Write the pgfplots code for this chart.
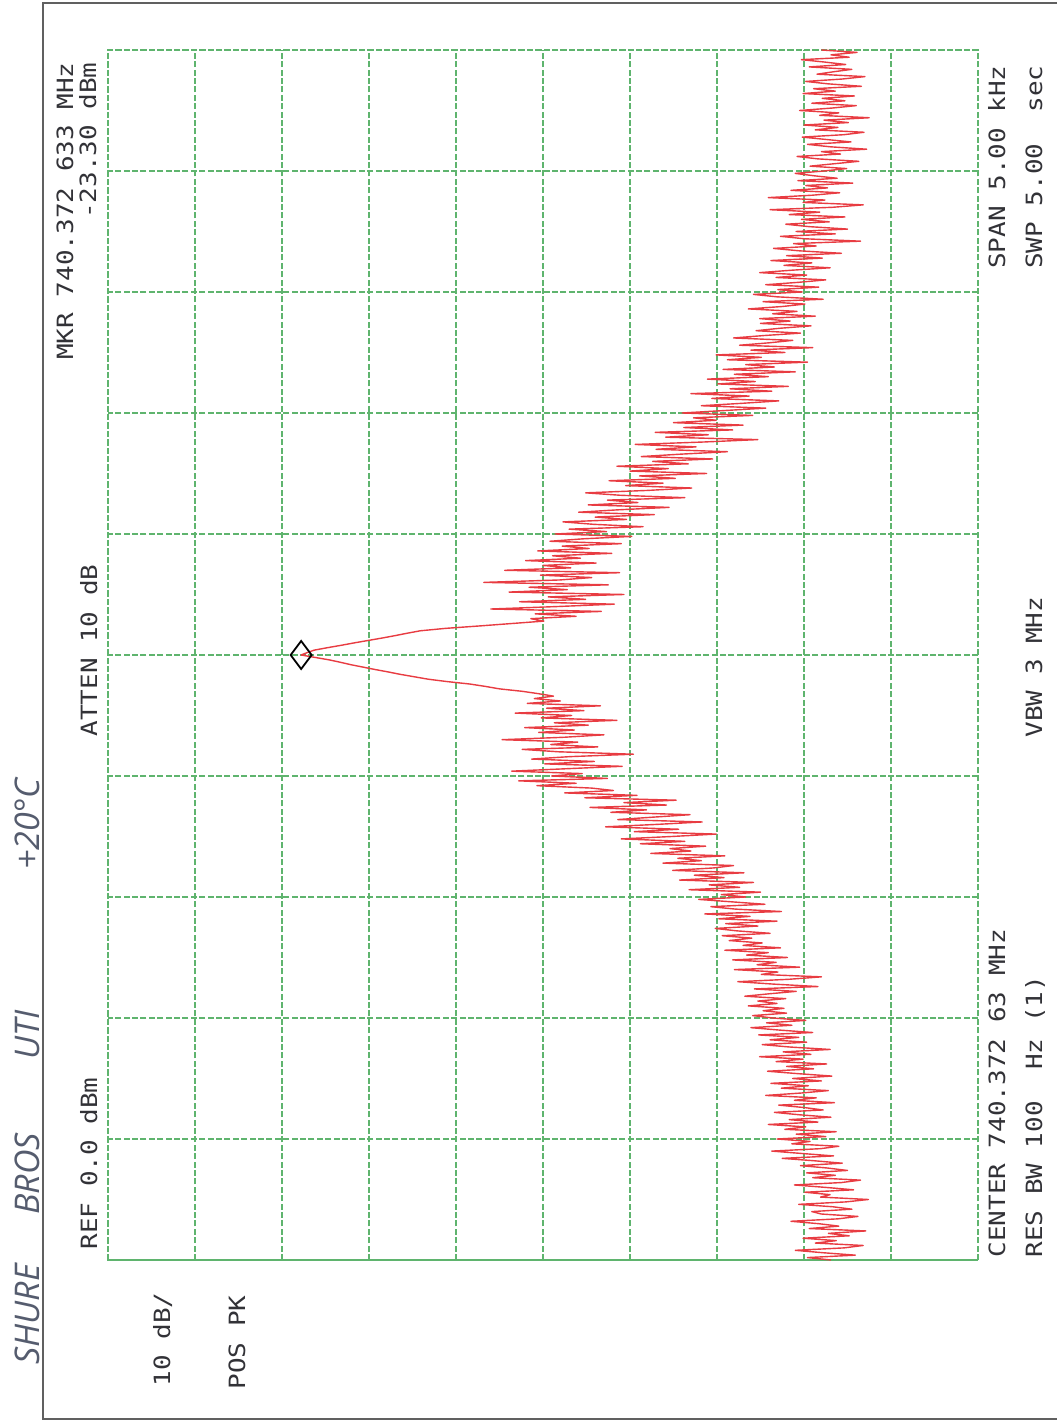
\documentclass[border=0pt]{standalone}
\usepackage{pgfplots}
\pgfplotsset{compat=1.18}
\usepackage{pgfplotstable}
\usepackage{fontspec}
\setmainfont{DejaVu Sans}
\newfontfamily\plotter{DejaVu Sans Mono}
\newfontfamily\hand{Open Sans}
\definecolor{gridgreen}{RGB}{95,180,110}
\definecolor{tracered}{RGB}{232,60,66}
\definecolor{ink}{RGB}{50,50,55}
\definecolor{pencil}{RGB}{85,92,110}

\pgfplotstableread[row sep=\\]{
f db\\
-2500 -83.1\\ -2490 -80.4\\ -2480 -85.9\\ -2470 -82.2\\ -2460 -79.0\\ -2450 -84.6\\ -2440 -86.8\\ -2430 -81.3\\ -2420 -83.7\\ -2410 -79.9\\
-2400 -85.2\\ -2390 -82.8\\ -2380 -87.1\\ -2370 -80.6\\ -2360 -84.0\\ -2350 -81.7\\ -2340 -78.5\\ -2330 -83.9\\ -2320 -86.2\\ -2310 -82.0\\
-2300 -80.9\\ -2290 -85.5\\ -2280 -83.3\\ -2270 -79.4\\ -2260 -84.8\\ -2250 -87.4\\ -2240 -81.9\\ -2230 -83.0\\ -2220 -80.1\\ -2210 -85.7\\
-2200 -82.5\\ -2190 -78.9\\ -2180 -84.3\\ -2170 -86.5\\ -2160 -81.0\\ -2150 -83.6\\ -2140 -80.3\\ -2130 -85.0\\ -2120 -82.7\\ -2110 -79.6\\
-2100 -84.4\\
-2090 -81.2\\ -2080 -77.5\\ -2070 -83.4\\ -2060 -79.8\\ -2050 -76.3\\ -2040 -81.9\\ -2030 -84.0\\ -2020 -78.6\\ -2010 -80.7\\ -2000 -76.9\\
-1990 -82.5\\ -1980 -79.1\\ -1970 -83.7\\ -1960 -77.8\\ -1950 -80.2\\ -1940 -75.9\\ -1930 -81.6\\ -1920 -78.3\\ -1910 -83.1\\ -1900 -79.5\\
-1890 -76.6\\ -1880 -82.2\\ -1870 -80.0\\ -1860 -77.1\\ -1850 -83.5\\ -1840 -78.9\\ -1830 -81.4\\ -1820 -75.6\\ -1810 -79.7\\ -1800 -82.8\\
-1790 -77.4\\ -1780 -80.5\\ -1770 -76.2\\ -1760 -82.0\\ -1750 -78.7\\ -1740 -83.2\\ -1730 -79.3\\ -1720 -75.8\\ -1710 -81.1\\ -1700 -78.0\\
-1690 -82.6\\ -1680 -76.8\\ -1670 -79.9\\ -1660 -74.9\\ -1650 -80.8\\ -1640 -77.6\\ -1630 -83.0\\ -1620 -78.4\\ -1610 -75.2\\ -1600 -80.3\\
-1590 -76.1\\ -1580 -79.4\\ -1570 -74.8\\ -1560 -81.0\\ -1550 -77.2\\ -1540 -73.9\\ -1530 -78.6\\ -1520 -75.7\\ -1510 -80.2\\ -1500 -76.4\\
-1490 -74.1\\ -1480 -78.0\\ -1470 -75.3\\ -1460 -77.7\\ -1450 -73.6\\ -1440 -76.9\\ -1430 -74.7\\ -1420 -77.9\\ -1410 -73.2\\ -1400 -76.0\\
-1390 -79.1\\ -1380 -74.3\\ -1370 -81.6\\ -1360 -76.5\\ -1350 -72.4\\ -1340 -78.3\\ -1330 -82.0\\ -1320 -75.1\\ -1310 -77.0\\ -1300 -72.0\\
-1290 -79.5\\ -1280 -74.6\\ -1270 -76.8\\ -1260 -71.8\\ -1250 -78.1\\ -1240 -73.4\\ -1230 -75.9\\ -1220 -70.9\\ -1210 -77.3\\ -1200 -73.0\\
-1190 -75.2\\ -1180 -71.4\\ -1170 -74.0\\ -1160 -70.6\\ -1150 -76.1\\ -1140 -72.3\\ -1130 -69.8\\ -1120 -74.7\\ -1110 -71.0\\ -1100 -76.9\\
-1090 -70.2\\ -1080 -73.8\\ -1070 -68.6\\ -1060 -77.4\\ -1050 -72.1\\ -1040 -69.3\\ -1030 -75.5\\ -1020 -71.7\\ -1010 -67.9\\ -1000 -73.3\\
-990 -70.5\\ -980 -75.0\\ -970 -66.8\\ -960 -72.6\\ -950 -69.1\\ -940 -74.2\\ -930 -65.7\\ -920 -70.8\\ -910 -67.4\\ -900 -73.1\\
-890 -64.9\\ -880 -69.6\\ -870 -71.9\\ -860 -63.8\\ -850 -68.2\\ -840 -65.5\\ -830 -70.9\\ -820 -62.4\\ -810 -67.0\\ -800 -64.6\\
-790 -68.7\\ -780 -61.2\\ -770 -66.3\\ -760 -59.0\\ -750 -64.8\\ -740 -69.9\\ -730 -60.5\\ -720 -65.6\\ -710 -57.2\\ -700 -63.1\\
-690 -68.3\\ -680 -58.6\\ -670 -62.7\\ -660 -66.9\\ -650 -57.8\\ -640 -61.9\\ -630 -55.4\\ -620 -64.2\\ -610 -59.3\\ -600 -65.3\\
-590 -54.8\\ -580 -60.8\\ -570 -52.5\\ -560 -58.1\\
-550 -55.6\\ -540 -49.3\\ -530 -53.8\\ -520 -47.2\\ -510 -57.4\\ -500 -51.0\\ -490 -54.5\\ -480 -46.4\\ -470 -52.7\\ -460 -59.1\\
-450 -50.2\\ -440 -55.9\\ -430 -48.7\\ -420 -53.1\\ -410 -60.4\\ -400 -51.8\\ -390 -47.6\\ -380 -56.3\\ -370 -50.9\\ -360 -54.0\\
-350 -45.3\\ -340 -52.4\\ -330 -57.0\\ -320 -49.5\\ -310 -53.6\\ -300 -47.9\\ -290 -55.2\\ -280 -51.3\\ -270 -58.5\\ -260 -49.8\\
-250 -53.3\\ -240 -46.8\\ -230 -54.7\\ -220 -50.4\\ -210 -56.6\\ -200 -48.2\\ -190 -52.0\\ -180 -49.0\\ -170 -51.2\\
-160 -49.5\\ -150 -47.6\\ -140 -45.0\\ -130 -43.4\\ -120 -41.6\\ -110 -39.0\\ -100 -36.8\\ -90 -35.2\\ -80 -33.6\\ -70 -32.2\\
-60 -30.7\\ -50 -29.3\\ -40 -27.9\\ -30 -26.7\\ -20 -25.4\\ -10 -23.8\\ 0 -22.2\\ 10 -22.9\\ 20 -23.7\\ 30 -25.2\\
40 -26.8\\ 50 -28.3\\ 60 -29.9\\ 70 -31.5\\ 80 -33.0\\ 90 -34.4\\ 100 -35.9\\ 110 -38.8\\ 120 -42.7\\ 130 -46.4\\
140 -50.1\\ 150 -48.6\\
160 -53.8\\ 170 -49.1\\ 180 -56.7\\ 190 -44.0\\ 200 -51.5\\ 210 -58.2\\ 220 -47.3\\ 230 -54.9\\ 240 -50.6\\ 250 -59.3\\
260 -46.1\\ 270 -52.8\\ 280 -48.4\\ 290 -57.5\\ 300 -43.2\\ 310 -51.9\\ 320 -55.6\\ 330 -49.7\\ 340 -58.8\\ 350 -45.6\\
360 -53.2\\ 370 -50.0\\ 380 -56.1\\ 390 -48.0\\ 400 -54.3\\ 410 -51.1\\ 420 -57.9\\ 430 -49.4\\ 440 -55.3\\ 450 -52.2\\
460 -59.0\\ 470 -50.8\\
480 -54.6\\ 490 -60.2\\ 500 -51.4\\ 510 -57.3\\ 520 -53.0\\ 530 -61.5\\ 540 -55.8\\ 550 -52.3\\ 560 -59.6\\ 570 -56.0\\
580 -62.8\\ 590 -54.1\\ 600 -58.7\\ 610 -64.5\\ 620 -55.2\\ 630 -60.9\\ 640 -57.4\\ 650 -66.3\\ 660 -58.9\\ 670 -54.9\\
680 -62.0\\ 690 -67.1\\ 700 -59.5\\ 710 -63.8\\ 720 -57.6\\ 730 -65.2\\ 740 -61.1\\ 750 -68.8\\ 760 -60.0\\ 770 -64.4\\
780 -58.5\\ 790 -66.7\\ 800 -62.6\\ 810 -69.5\\ 820 -61.3\\ 830 -65.9\\ 840 -71.2\\ 850 -63.0\\ 860 -67.6\\ 870 -60.6\\
880 -68.4\\ 890 -74.7\\ 900 -64.1\\ 910 -69.0\\ 920 -62.9\\ 930 -71.8\\ 940 -66.2\\ 950 -73.0\\ 960 -65.0\\ 970 -69.9\\
980 -67.3\\ 990 -74.1\\ 1000 -66.0\\
1010 -70.8\\ 1020 -75.6\\ 1030 -68.2\\ 1040 -72.9\\ 1050 -77.1\\ 1060 -69.4\\ 1070 -73.7\\ 1080 -67.0\\ 1090 -76.3\\ 1100 -71.5\\
1110 -78.2\\ 1120 -70.1\\ 1130 -74.4\\ 1140 -68.9\\ 1150 -75.9\\ 1160 -72.0\\ 1170 -79.0\\ 1180 -70.7\\ 1190 -76.6\\ 1200 -73.3\\
1210 -80.4\\ 1220 -71.2\\ 1230 -75.1\\ 1240 -69.9\\ 1250 -77.8\\ 1260 -73.9\\ 1270 -81.0\\ 1280 -72.6\\ 1290 -76.0\\ 1300 -78.7\\
1310 -71.9\\ 1320 -75.4\\ 1330 -79.6\\ 1340 -74.5\\ 1350 -77.2\\ 1360 -80.8\\ 1370 -75.0\\ 1380 -78.4\\ 1390 -74.9\\ 1400 -81.3\\
1410 -76.4\\ 1420 -79.2\\ 1430 -73.6\\ 1440 -77.5\\ 1450 -80.1\\ 1460 -75.3\\ 1470 -82.2\\ 1480 -76.9\\ 1490 -74.2\\ 1500 -79.8\\
1510 -77.0\\ 1520 -81.7\\ 1530 -75.6\\ 1540 -79.4\\ 1550 -82.5\\ 1560 -76.8\\ 1570 -80.3\\ 1580 -74.9\\ 1590 -78.6\\ 1600 -83.0\\
1610 -77.7\\ 1620 -80.9\\ 1630 -76.2\\ 1640 -82.1\\ 1650 -78.0\\ 1660 -84.3\\ 1670 -79.5\\ 1680 -76.5\\ 1690 -81.4\\ 1700 -78.8\\
1710 -86.5\\ 1720 -80.0\\ 1730 -77.3\\ 1740 -83.6\\ 1750 -79.1\\ 1760 -85.0\\ 1770 -80.6\\ 1780 -77.9\\ 1790 -82.9\\ 1800 -79.7\\
1810 -84.7\\ 1820 -78.3\\ 1830 -81.8\\ 1840 -76.1\\ 1850 -83.3\\ 1860 -86.8\\ 1870 -79.9\\ 1880 -82.4\\ 1890 -75.9\\ 1900 -81.0\\
1910 -84.1\\ 1920 -78.5\\ 1930 -82.7\\ 1940 -80.2\\ 1950 -85.6\\ 1960 -79.3\\ 1970 -83.8\\ 1980 -81.2\\ 1990 -79.0\\ 2000 -82.3\\
2010 -84.9\\ 2020 -80.7\\ 2030 -83.5\\ 2040 -86.3\\ 2050 -81.6\\ 2060 -79.2\\ 2070 -84.2\\ 2080 -82.0\\ 2090 -87.2\\ 2100 -83.0\\
2110 -80.4\\ 2120 -85.4\\ 2130 -82.6\\ 2140 -79.8\\ 2150 -84.6\\ 2160 -86.9\\ 2170 -81.3\\ 2180 -83.9\\ 2190 -80.0\\ 2200 -85.1\\
2210 -82.3\\ 2220 -87.5\\ 2230 -81.8\\ 2240 -84.0\\ 2250 -79.5\\ 2260 -83.2\\ 2270 -86.0\\ 2280 -80.9\\ 2290 -84.7\\ 2300 -82.1\\
2310 -85.8\\ 2320 -79.9\\ 2330 -83.6\\ 2340 -81.1\\ 2350 -86.6\\ 2360 -82.8\\ 2370 -80.2\\ 2380 -84.4\\ 2390 -87.0\\ 2400 -81.5\\
2410 -83.4\\ 2420 -85.5\\ 2430 -80.6\\ 2440 -84.8\\ 2450 -82.4\\ 2460 -79.7\\ 2470 -85.2\\ 2480 -83.1\\ 2490 -86.1\\ 2500 -82.0\\
}\tracetable

\begin{document}
\begin{tikzpicture}[x=0.5pt,y=0.5pt]
\useasboundingbox (0,0) rectangle (1057,1427);
% page frame
\draw[gray!75!black, line width=0.8pt] (1057,1424) -- (43,1424) -- (43,8) -- (1057,8);

\begin{axis}[
  at={(54pt,83.5pt)}, anchor=south west,
  scale only axis, width=435pt, height=605pt,
  xmin=-100, xmax=0, x dir=reverse,
  ymin=-2500, ymax=2500,
  xtick={-100,-90,...,0}, ytick={-2500,-2000,...,2500},
  xticklabels={}, yticklabels={},
  major tick length=0pt,
  tick style={draw=none},
  xmajorgrids=true, ymajorgrids=true,
  x grid style={gridgreen, line width=0.6pt, dash pattern=on 3pt off 1.2pt},
  y grid style={gridgreen, line width=0.6pt, dash pattern=on 3pt off 1.2pt},
  major grid style={gridgreen, line width=0.6pt, dash pattern=on 3pt off 1.2pt},
  axis line style={gridgreen, line width=0.6pt, dash pattern=on 3pt off 1.2pt},
  clip=false,
]
\addplot[tracered, line width=0.7pt, line join=round] table[x=db, y=f] {\tracetable};
\addplot[only marks, mark=diamond, mark size=7pt,
  mark options={draw=black, fill=white, line width=0.9pt}] coordinates {(-22.2,0)};
\end{axis}

\begin{scope}[every node/.style={rotate=90, xscale=1.16, inner sep=0pt, text=ink, font=\plotter\fontsize{11.2}{11.2}\selectfont}]
\node[anchor=base east] at (73,1365) {MKR 740.372 633 MHz};
\node[anchor=base east] at (96,1365) {-23.30 dBm};
\node[anchor=base west] at (97,690) {ATTEN 10 dB};
\node[anchor=base west] at (97,177) {REF 0.0 dBm};
\node[anchor=base west] at (170,40) {10 dB/};
\node[anchor=base west] at (245,37) {POS PK};
\node[anchor=base west] at (1005,169) {CENTER 740.372 63 MHz};
\node[anchor=base west] at (1042,169) {RES BW 100~~Hz (1)};
\node[anchor=base west] at (1042,689) {VBW 3 MHz};
\node[anchor=base east] at (1005,1362) {SPAN 5.00 kHz};
\node[anchor=base east] at (1042,1362) {SWP 5.00~~sec};
\end{scope}

\begin{scope}[every node/.style={rotate=90, inner sep=0pt, text=pencil, font=\hand\itshape\fontsize{17}{17}\selectfont}]
\node[anchor=base west] at (40,62) {SHURE};
\node[anchor=base west] at (40,212) {BROS};
\node[anchor=base west] at (40,367) {UTI};
\node[anchor=base west] at (40,557) {+20°C};
\end{scope}
\end{tikzpicture}
\end{document}
